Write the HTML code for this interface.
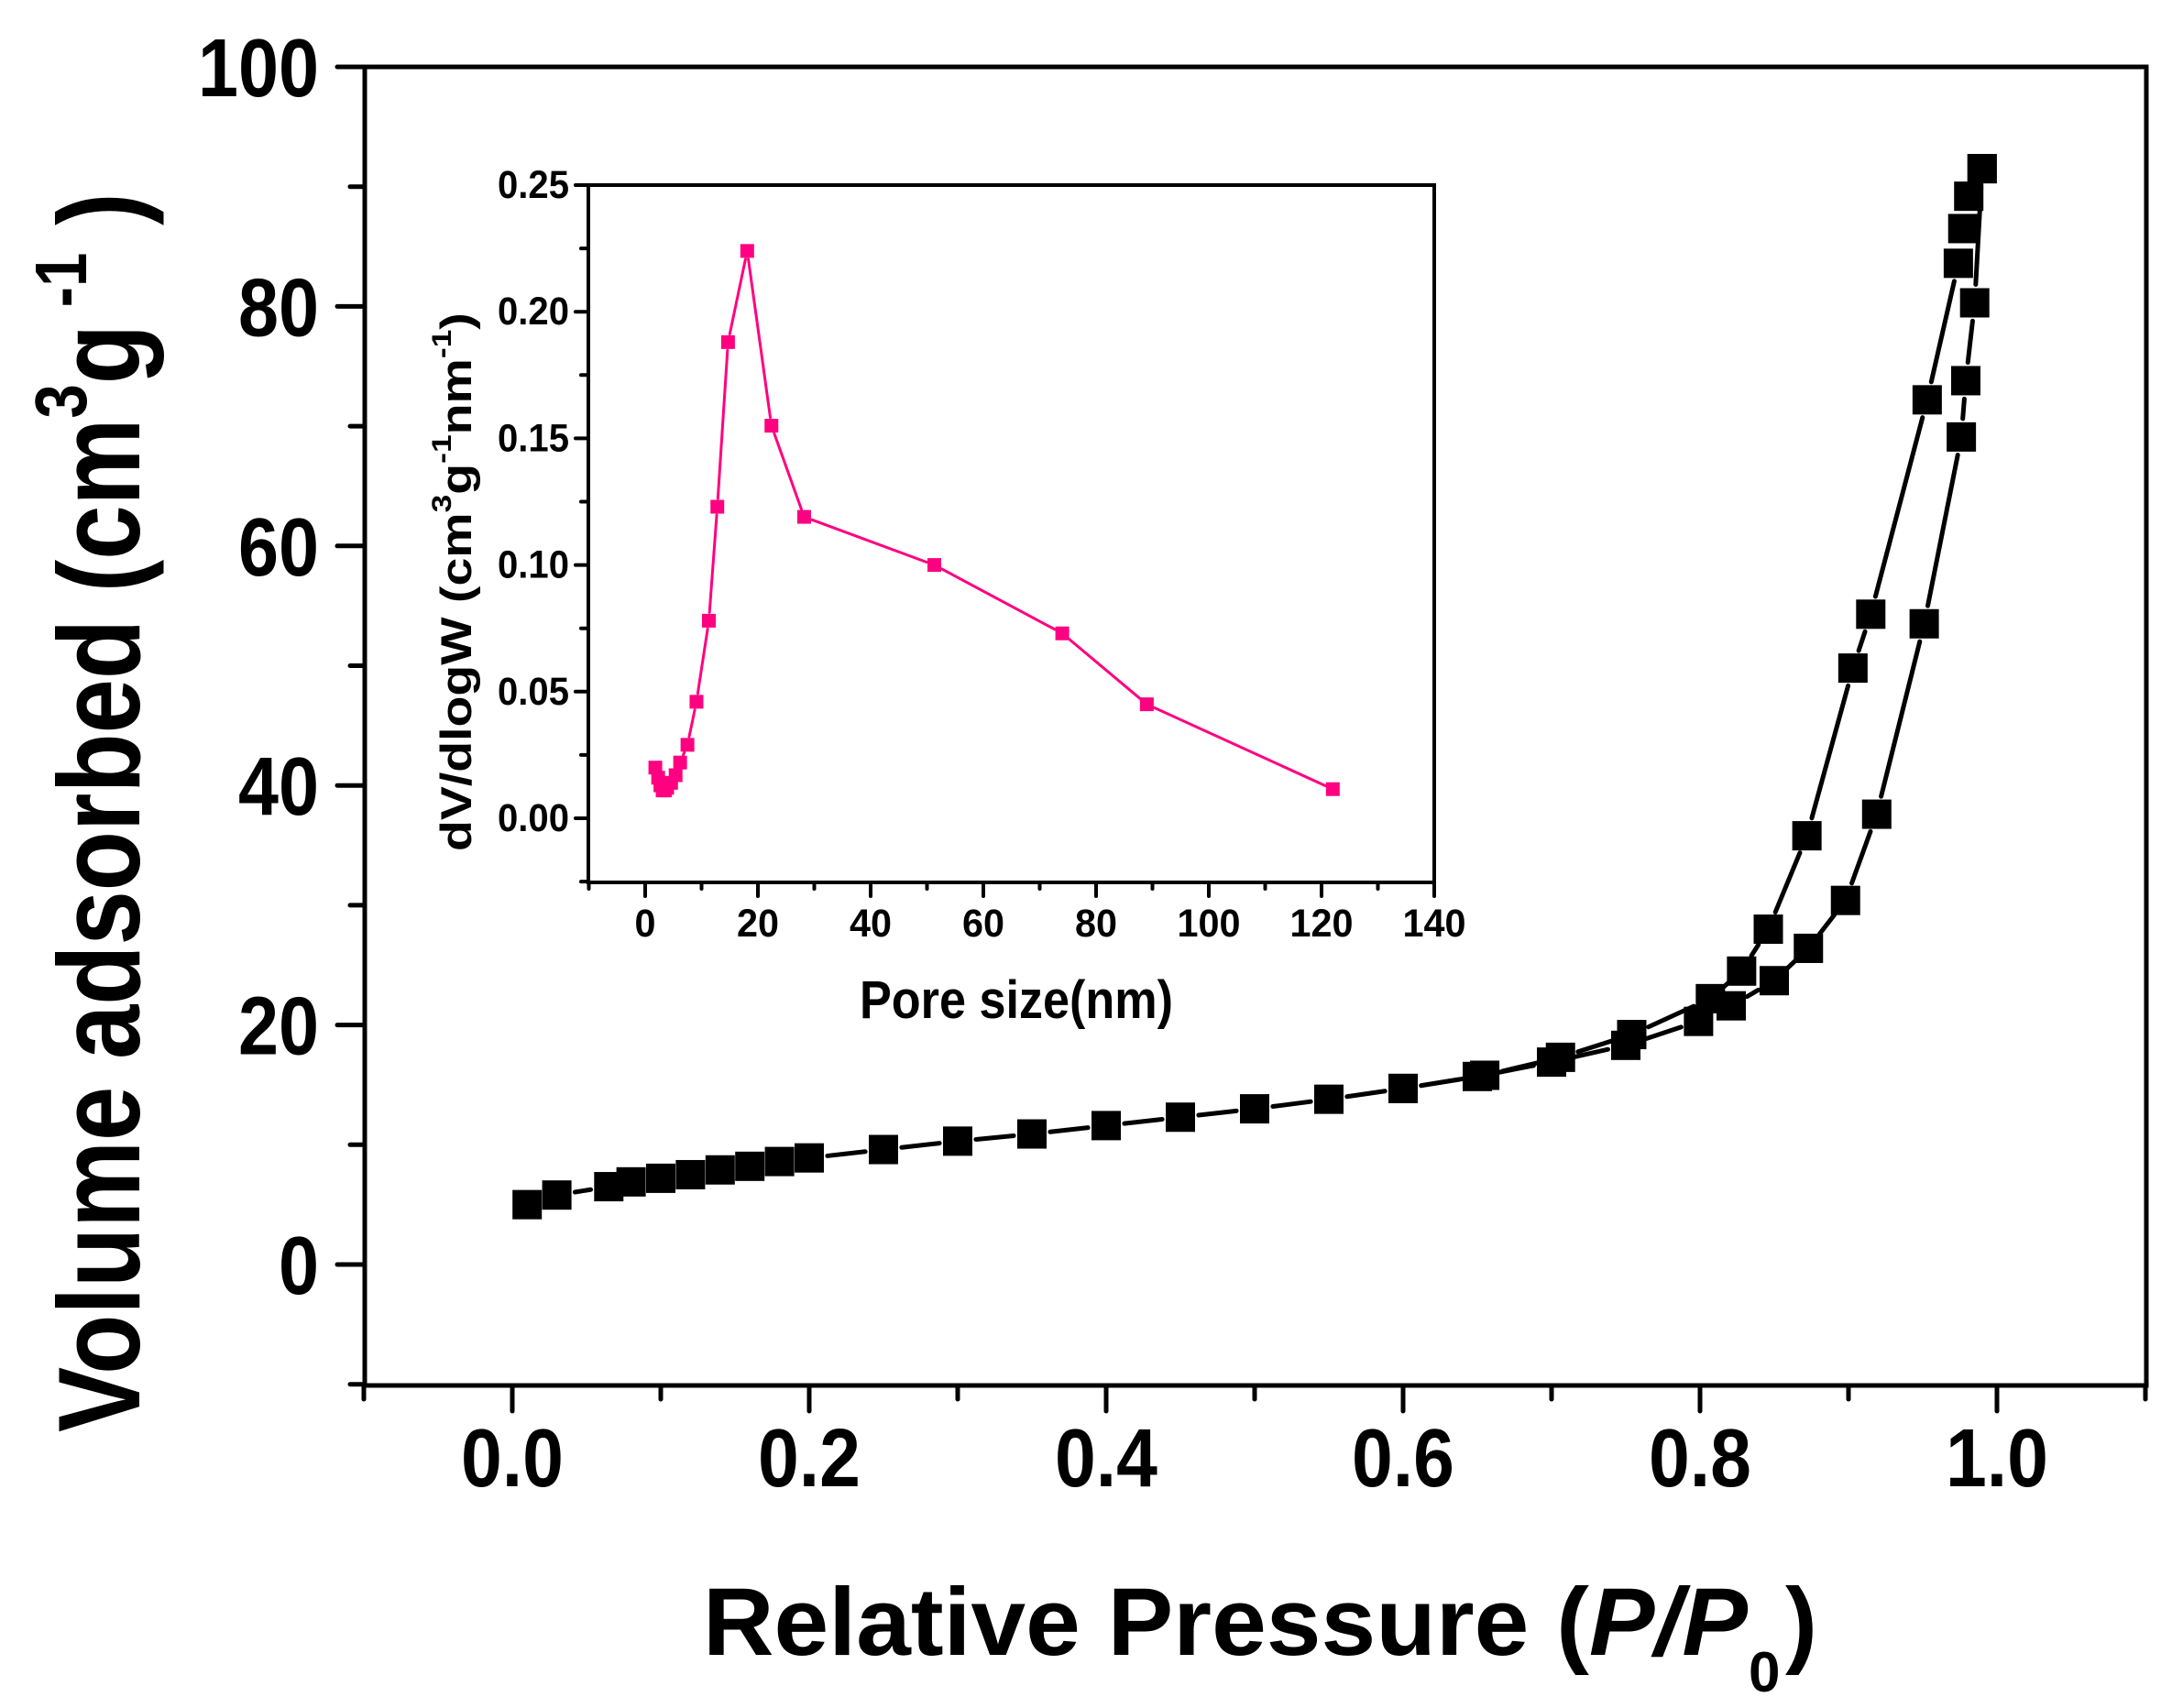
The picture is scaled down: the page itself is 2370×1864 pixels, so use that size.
<!DOCTYPE html>
<html><head><meta charset="utf-8"><style>
html,body{margin:0;padding:0;background:#fff;}
svg{display:block;}
text{font-family:"Liberation Sans",Arial,sans-serif;font-weight:bold;}
</style></head><body>
<svg id="s" width="2370" height="1864" viewBox="0 0 2370 1864" xmlns="http://www.w3.org/2000/svg">
<rect width="2370" height="1864" fill="#fff"/>
<rect x="398" y="73" width="1944" height="1439" fill="none" stroke="#000" stroke-width="5"/>
<g id="mt" stroke="#000" stroke-width="5" stroke-linecap="round"></g>
<g id="ml" font-size="90" fill="#000"></g>
<text transform="translate(152,1563) rotate(-90) scale(0.84,1)" font-size="127">Volume adsorbed (cm<tspan font-size="80" dy="-58">3</tspan><tspan dy="58">g</tspan><tspan font-size="80" dy="-58"> -1</tspan><tspan dy="58"> )</tspan></text>
<text x="767" y="1806" font-size="105" textLength="1140" lengthAdjust="spacingAndGlyphs">Relative Pressure (<tspan font-style="italic">P/P</tspan></text>
<text x="1908" y="1846" font-size="62">0</text>
<text x="1948" y="1806" font-size="105">)</text>
<rect x="642" y="202" width="923" height="761" fill="none" stroke="#000" stroke-width="4"/>
<g id="it" stroke="#000" stroke-width="4" stroke-linecap="round"></g>
<g id="il" font-size="43" fill="#000"></g>
<text x="938" y="1111" font-size="58" textLength="342" lengthAdjust="spacingAndGlyphs">Pore size(nm)</text>
<text transform="translate(514,929) rotate(-90) scale(1.18,1)" font-size="47">dV/dlogW (cm<tspan font-size="30" dy="-22">3</tspan><tspan dy="22">g</tspan><tspan font-size="30" dy="-22">-1</tspan><tspan dy="22">nm</tspan><tspan font-size="30" dy="-22">-1</tspan><tspan dy="22">)</tspan></text>
<g id="data"></g>
</svg>
<script>
var NS="http://www.w3.org/2000/svg";
function el(p,t,a,txt){var e=document.createElementNS(NS,t);for(var k in a)e.setAttribute(k,a[k]);if(txt!==undefined)e.textContent=txt;p.appendChild(e);return e;}
var X=function(p){return 559+1620*p;}, Y=function(v){return 1380-13.07*v;};
var mt=document.getElementById('mt'), ml=document.getElementById('ml');
for(var v=-10;v<=100;v+=10){var y=Y(v);var maj=(v%20===0);el(mt,'line',{x1:398,y1:y,x2:maj?368:382,y2:y});
 if(maj){el(ml,'text',{x:348,y:y+32,'text-anchor':'end',textLength:(String(v).length*44),lengthAdjust:'spacingAndGlyphs'},String(v));}}
for(var i=-1;i<=11;i++){var p=i/10,x=X(p);var maj=(i%2===0);el(mt,'line',{x1:x,y1:1512,x2:x,y2:maj?1540:1527});
 if(maj){el(ml,'text',{x:x,y:1622,'text-anchor':'middle',textLength:112,lengthAdjust:'spacingAndGlyphs'},(p).toFixed(1));}}
var IX=function(n){return 704+6.15*n;}, IY=function(v){return 893-2764*v;};
var it=document.getElementById('it'), il=document.getElementById('il');
for(var k=-1;k<=10;k++){var v=k*0.025,y=IY(v);var maj=(k%2===0);el(it,'line',{x1:642,y1:y,x2:maj?628:634,y2:y});
 if(maj&&k>=0){el(il,'text',{x:621,y:y+14,'text-anchor':'end',textLength:78,lengthAdjust:'spacingAndGlyphs'},v.toFixed(2));}}
for(var n=-10;n<=140;n+=10){var x=IX(n);var maj=(n%20===0);el(it,'line',{x1:x,y1:963,x2:x,y2:maj?978:970});
 if(maj){var s=String(n);el(il,'text',{x:x,y:1022,'text-anchor':'middle',textLength:s.length*23,lengthAdjust:'spacingAndGlyphs'},s);}}
var g=document.getElementById('data');
function series(pts,col,sz,lw,gap){
 for(var i=0;i<pts.length-1;i++){var a=pts[i],b=pts[i+1];var dx=b[0]-a[0],dy=b[1]-a[1],d=Math.sqrt(dx*dx+dy*dy);
  if(d>2*gap+2){var ux=dx/d,uy=dy/d;el(g,'line',{x1:a[0]+ux*gap,y1:a[1]+uy*gap,x2:b[0]-ux*gap,y2:b[1]-uy*gap,stroke:col,'stroke-width':lw,'stroke-linecap':'round'});}}
 pts.forEach(function(q){el(g,'rect',{x:q[0]-sz/2,y:q[1]-sz/2,width:sz,height:sz,fill:col});});}
var ads=[[0.01,5],[0.03,5.8],[0.065,6.5],[0.08,6.9],[0.1,7.2],[0.12,7.5],[0.14,7.9],[0.16,8.2],[0.18,8.6],[0.2,8.9],[0.25,9.6],[0.3,10.3],[0.35,10.9],[0.4,11.6],[0.45,12.3],[0.5,13.0],[0.55,13.8],[0.6,14.7],[0.65,15.7],[0.7,16.9],[0.75,18.3],[0.799,20.3],[0.821,21.6],[0.85,23.7],[0.873,26.4],[0.898,30.4],[0.919,37.6],[0.951,53.5],[0.976,69.1],[0.979,73.8],[0.985,80.3],[0.99,91.5]];
var des=[[0.99,91.5],[0.981,89.2],[0.977,86.5],[0.974,83.6],[0.953,72.2],[0.915,54.3],[0.903,49.8],[0.872,35.8],[0.846,28.0],[0.828,24.5],[0.807,22.2],[0.754,19.2],[0.706,17.3],[0.655,15.8],[0.6,14.7]];
series(ads.map(function(q){return [X(q[0]),Y(q[1])];}),'#000',32,5,20);
series(des.map(function(q){return [X(q[0]),Y(q[1])];}),'#000',32,5,20);
var pin=[[1.8,0.020],[2.3,0.016],[2.7,0.013],[3.1,0.011],[3.5,0.011],[3.9,0.012],[4.6,0.014],[5.4,0.017],[6.2,0.022],[7.5,0.029],[9.1,0.046],[11.3,0.078],[12.8,0.123],[14.7,0.188],[18.1,0.224],[22.4,0.155],[28.2,0.119],[51.3,0.100],[74,0.073],[89,0.045],[122,0.0115]];
series(pin.map(function(q){return [IX(q[0]),IY(q[1])];}),'#FF0080',15,3,9);
</script>
</body></html>
